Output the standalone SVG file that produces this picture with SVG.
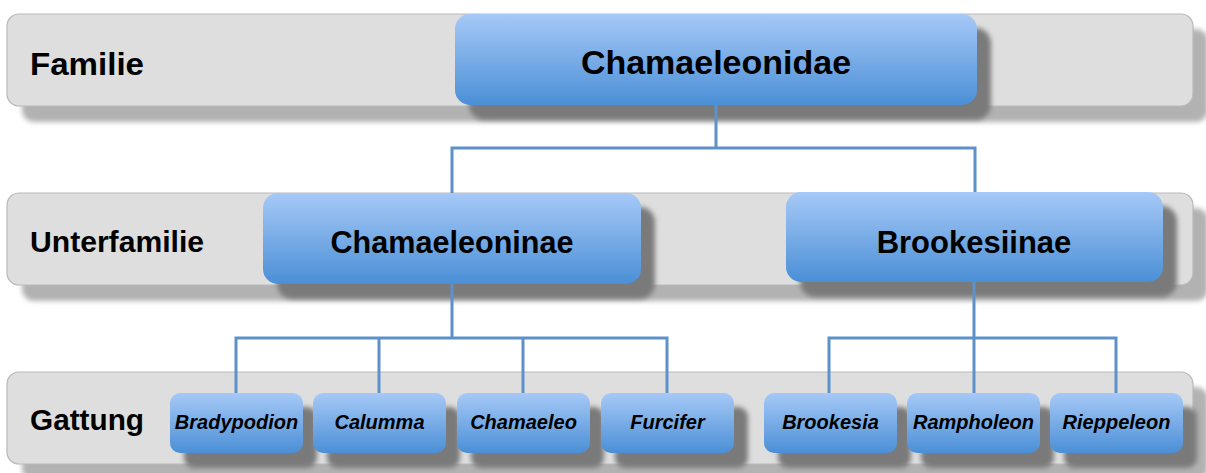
<svg xmlns="http://www.w3.org/2000/svg" width="1206" height="473" viewBox="0 0 1206 473">
<defs>
<linearGradient id="blue" x1="0" y1="0" x2="0" y2="1">
<stop offset="0" stop-color="#a6c9f7"/>
<stop offset="1" stop-color="#4b8fd6"/>
</linearGradient>
<filter id="blur" x="-10%" y="-30%" width="120%" height="160%">
<feGaussianBlur stdDeviation="2.5"/>
</filter>
<style>
.band{fill:#dedede;stroke:#b9b9b9;stroke-width:1.2}
.bshadow{fill:#b2b2b2}
.nshadow{fill:#7a7a7a}
.node{fill:url(#blue)}
.lbl{font-family:"Liberation Sans",Arial,sans-serif;font-weight:bold;fill:#000}
.big{font-family:"Liberation Sans",Arial,sans-serif;font-weight:bold;fill:#000;text-anchor:middle}
.small{font-family:"Liberation Sans",Arial,sans-serif;font-weight:bold;font-style:italic;font-size:20px;fill:#000;text-anchor:middle}
.conn{fill:none;stroke:#5d91c9;stroke-width:3}
</style>
</defs>
<rect width="1206" height="473" fill="#ffffff"/>
<g id="band-shadows" filter="url(#blur)">
<rect class="bshadow" x="22" y="29" width="1186" height="93" rx="12"/>
<rect class="bshadow" x="22" y="208" width="1186" height="93" rx="12"/>
<rect class="bshadow" x="22" y="387" width="1186" height="93" rx="12"/>
</g>
<g id="band-familie">
<rect class="band" x="7" y="14" width="1186" height="92" rx="12"/>
<text class="lbl" x="30" y="75" font-size="32" textLength="114" lengthAdjust="spacingAndGlyphs">Familie</text>
</g>
<g id="band-unterfamilie">
<rect class="band" x="7" y="193" width="1186" height="92" rx="12"/>
<text class="lbl" x="30" y="252" font-size="30" textLength="174" lengthAdjust="spacingAndGlyphs">Unterfamilie</text>
</g>
<g id="band-gattung">
<rect class="band" x="7" y="372" width="1186" height="92" rx="12"/>
<text class="lbl" x="30" y="430" font-size="29" textLength="114" lengthAdjust="spacingAndGlyphs">Gattung</text>
</g>
<g id="node-shadows" filter="url(#blur)">
<rect class="nshadow" x="469" y="28" width="522" height="92" rx="15"/>
<rect class="nshadow" x="277" y="207" width="378" height="92" rx="15"/>
<rect class="nshadow" x="800" y="206" width="377" height="91" rx="15"/>
<rect class="nshadow" x="184" y="407" width="133" height="61" rx="10"/>
<rect class="nshadow" x="327" y="407" width="133" height="61" rx="10"/>
<rect class="nshadow" x="471" y="407" width="133" height="61" rx="10"/>
<rect class="nshadow" x="615" y="407" width="133" height="61" rx="10"/>
<rect class="nshadow" x="778" y="407" width="133" height="61" rx="10"/>
<rect class="nshadow" x="921" y="407" width="133" height="61" rx="10"/>
<rect class="nshadow" x="1064" y="407" width="133" height="61" rx="10"/>
</g>
<g id="connectors">
<path class="conn" d="M716 105 V148 M452 193 V148 H975 V193"/>
<path class="conn" d="M452 284 V338 M236 393 V338 H667 V393 M379 338 V393 M523 338 V393"/>
<path class="conn" d="M974 282 V393 M829 393 V338 H1116 V393"/>
</g>
<g id="chamaeleonidae">
<rect class="node" x="455" y="14" width="522" height="91" rx="15"/>
<text class="big" x="716" y="74" font-size="34">Chamaeleonidae</text>
</g>
<g id="chamaeleoninae">
<rect class="node" x="263" y="193" width="378" height="91" rx="15"/>
<text class="big" x="452" y="253" font-size="31" textLength="243" lengthAdjust="spacingAndGlyphs">Chamaeleoninae</text>
</g>
<g id="brookesiinae">
<rect class="node" x="786" y="192" width="377" height="90" rx="15"/>
<text class="big" x="974" y="253" font-size="31">Brookesiinae</text>
</g>
<g id="bradypodion">
<rect class="node" x="170" y="393" width="133" height="60" rx="10"/>
<text class="small" x="236.5" y="429">Bradypodion</text>
</g>
<g id="calumma">
<rect class="node" x="313" y="393" width="133" height="60" rx="10"/>
<text class="small" x="379.5" y="429">Calumma</text>
</g>
<g id="chamaeleo">
<rect class="node" x="457" y="393" width="133" height="60" rx="10"/>
<text class="small" x="523.5" y="429">Chamaeleo</text>
</g>
<g id="furcifer">
<rect class="node" x="601" y="393" width="133" height="60" rx="10"/>
<text class="small" x="667.5" y="429">Furcifer</text>
</g>
<g id="brookesia">
<rect class="node" x="764" y="393" width="133" height="60" rx="10"/>
<text class="small" x="830.5" y="429">Brookesia</text>
</g>
<g id="rampholeon">
<rect class="node" x="907" y="393" width="133" height="60" rx="10"/>
<text class="small" x="973.5" y="429">Rampholeon</text>
</g>
<g id="rieppeleon">
<rect class="node" x="1050" y="393" width="133" height="60" rx="10"/>
<text class="small" x="1116.5" y="429">Rieppeleon</text>
</g>
</svg>
